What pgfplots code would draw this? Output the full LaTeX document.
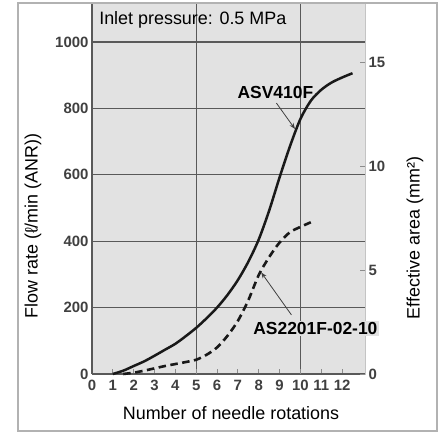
\documentclass[border=0pt]{standalone}
\usepackage{fontspec}
\setmainfont{Liberation Sans}
\usepackage{pgfplots}
\pgfplotsset{compat=1.18}
\usetikzlibrary{arrows.meta}

\definecolor{plotgray}{rgb}{0.885,0.885,0.885}
\definecolor{edgegray}{rgb}{0.77,0.77,0.77}
\definecolor{gridgray}{rgb}{0.35,0.35,0.35}
\definecolor{framegray}{rgb}{0.7,0.7,0.7}
\definecolor{curve}{rgb}{0.1,0.1,0.1}

\newcommand{\labelfont}{\fontsize{18}{21}\selectfont}
\newcommand{\tickfont}{\fontsize{15}{18}\selectfont\bfseries}

\begin{document}
\begin{tikzpicture}
  % picture is 444 x 434 px, 1 px = 1 bp, origin at lower left of the plot area
  \path [use as bounding box] (-92bp,-60bp) rectangle (352bp,374bp);
  \path [fill=plotgray, draw=edgegray, line width=1bp] (0bp,0bp) rectangle (273bp,371bp);

  \begin{axis}[
      scale only axis,
      width = 273bp,
      height = 371bp,
      xmin = 0, xmax = 13.1,
      ymin = 0, ymax = 1117.5,
      axis x line* = bottom,
      axis y line* = left,
      axis line style = {draw=gridgray, line width=1.2bp},
      xtick = {0,...,12},
      ytick = {0,200,...,1000},
      ymajorgrids = true,
      major grid style = {draw=gridgray, line width=1.2bp},
      extra x ticks = {5,10},
      extra x tick labels = {},
      extra x tick style = {grid=major},
      tick align = inside,
      major tick length = 5bp,
      x tick style = {draw=black!45, line width=0.8bp},
      y tick style = {draw=none},
      tick label style = {font=\tickfont, text=black!75},
      xticklabel style = {yshift=-3bp},
      /pgf/number format/assume math mode = true,
      /pgf/number format/1000 sep = {},
      clip = false,
    ]

    % ASV410F
    \addplot [curve, line width=2.5bp, smooth] coordinates {
      (1,0) (1.5,10) (2,24) (2.5,38) (3,55) (3.5,73) (4,91) (4.5,114)
      (5,139) (5.5,168) (6,200) (6.5,238) (7,283) (7.5,338) (8,405)
      (8.5,492) (9,592) (9.5,686) (10,768) (10.5,823) (11,856)
      (11.5,878) (12,893) (12.5,906)
    };

    % AS2201F-02-10
    \addplot [curve, line width=2.6bp, smooth, dash pattern=on 7.5bp off 4.5bp] coordinates {
      (1.5,0) (2,4) (2.5,10) (3,17) (3.5,24) (4,30) (4.5,36) (5,43)
      (5.5,58) (6,80) (6.5,115) (7,160) (7.5,222) (8,298) (8.5,352)
      (9,396) (9.5,427) (10,443) (10.5,457)
    };

    \draw [black!75, line width=0.8bp, -{Stealth[length=6bp, width=4.5bp]}]
      (axis cs:8.85,816) -- (axis cs:9.74,738);
    \draw [black!75, line width=0.8bp, -{Stealth[length=6bp, width=4.5bp]}]
      (axis cs:9.57,178) -- (axis cs:8.12,306);

    \node [font=\fontsize{17.5}{20}\selectfont\bfseries, inner sep=1bp]
      at (axis cs:8.8,847) {ASV410F};
    \node [font=\fontsize{17.5}{20}\selectfont\bfseries, fill=plotgray, inner sep=1.5bp]
      at (axis cs:10.72,137) {AS2201F-02-10};
    \node [font=\labelfont, anchor=base west, inner sep=0pt]
      at (axis cs:0.34,1054) {Inlet pressure: 0.5 MPa};
  \end{axis}

  \begin{axis}[
      scale only axis,
      width = 273bp,
      height = 371bp,
      xmin = 0, xmax = 13.1,
      ymin = 0, ymax = 17.84,
      axis x line = none,
      axis y line* = right,
      axis line style = {draw=none},
      ytick = {0,5,10,15},
      tick align = inside,
      major tick length = 5bp,
      y tick style = {draw=black!45, line width=0.8bp},
      tick label style = {font=\tickfont, text=black!75},
      /pgf/number format/assume math mode = true,
    ]
  \end{axis}

  \node [font=\labelfont, rotate=90] at (-59bp,148bp) {Flow rate (ℓ/min (ANR))};
  \node [font=\labelfont, rotate=90] at (323bp,136bp) {Effective area (mm²)};
  \node [font=\labelfont, anchor=base] at (139bp,-45bp) {Number of needle rotations};

  \draw [framegray, line width=1.2bp] (-74bp,-57bp) rectangle (345bp,371bp);
\end{tikzpicture}
\end{document}
